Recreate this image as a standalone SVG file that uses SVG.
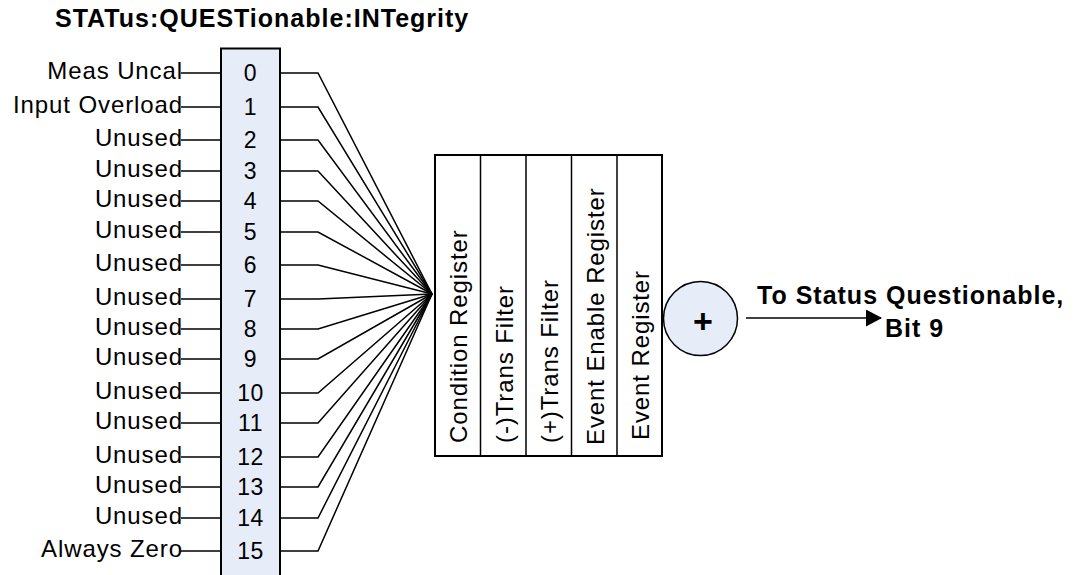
<svg xmlns="http://www.w3.org/2000/svg" width="1077" height="575" viewBox="0 0 1077 575">
<style>
  .lbl { font-family: "Liberation Sans", Arial, sans-serif; font-size: 24px; letter-spacing: 0.9px; fill: #000; text-anchor: end; }
  .num { font-family: "Liberation Sans", Arial, sans-serif; font-size: 23px; letter-spacing: 0.5px; fill: #000; text-anchor: middle; }
  .reg { font-family: "Liberation Sans", Arial, sans-serif; font-size: 24px; letter-spacing: 0.9px; fill: #000; }
  .bold { font-family: "Liberation Sans", Arial, sans-serif; font-weight: bold; font-size: 25px; letter-spacing: 1px; fill: #000; }
  .ln { stroke: #000; stroke-width: 1.5; fill: none; }
  .box { fill: #E6EDF8; stroke: #000; stroke-width: 2; }
</style>
<defs>
  <marker id="arr" markerWidth="16" markerHeight="17" refX="15" refY="8.5" orient="auto" markerUnits="userSpaceOnUse">
    <path d="M0,0 L16,8.5 L0,17 Z" fill="#000"/>
  </marker>
</defs>
<rect width="1077" height="575" fill="#fff"/>
<text id="title" class="bold" x="55" y="27">STATus:QUESTionable:INTegrity</text>

<g id="bits">
  <rect class="box" x="221" y="48.5" width="59" height="560"/>
  <text class="num" x="250.5" y="81">0</text>
  <text class="num" x="250.5" y="115">1</text>
  <text class="num" x="250.5" y="148">2</text>
  <text class="num" x="250.5" y="179">3</text>
  <text class="num" x="250.5" y="209">4</text>
  <text class="num" x="250.5" y="240">5</text>
  <text class="num" x="250.5" y="273">6</text>
  <text class="num" x="250.5" y="307">7</text>
  <text class="num" x="250.5" y="337">8</text>
  <text class="num" x="250.5" y="367">9</text>
  <text class="num" x="250.5" y="401">10</text>
  <text class="num" x="250.5" y="431">11</text>
  <text class="num" x="250.5" y="465">12</text>
  <text class="num" x="250.5" y="495">13</text>
  <text class="num" x="250.5" y="526">14</text>
  <text class="num" x="250.5" y="559">15</text>
</g>

<g id="labels">
  <text class="lbl" x="183" y="79">Meas Uncal</text>
  <text class="lbl" x="183" y="113">Input Overload</text>
  <text class="lbl" x="183" y="146">Unused</text>
  <text class="lbl" x="183" y="177">Unused</text>
  <text class="lbl" x="183" y="207">Unused</text>
  <text class="lbl" x="183" y="238">Unused</text>
  <text class="lbl" x="183" y="271">Unused</text>
  <text class="lbl" x="183" y="305">Unused</text>
  <text class="lbl" x="183" y="335">Unused</text>
  <text class="lbl" x="183" y="365">Unused</text>
  <text class="lbl" x="183" y="399">Unused</text>
  <text class="lbl" x="183" y="429">Unused</text>
  <text class="lbl" x="183" y="463">Unused</text>
  <text class="lbl" x="183" y="493">Unused</text>
  <text class="lbl" x="183" y="524">Unused</text>
  <text class="lbl" x="183" y="557">Always Zero</text>
</g>

<g id="registers">
  <rect x="435" y="155" width="227" height="301" fill="#fff" stroke="#000" stroke-width="2"/>
  <line class="ln" x1="480.5" y1="155" x2="480.5" y2="456"/>
  <line class="ln" x1="526" y1="155" x2="526" y2="456"/>
  <line class="ln" x1="571.5" y1="155" x2="571.5" y2="456"/>
  <line class="ln" x1="617" y1="155" x2="617" y2="456"/>
  <text class="reg" transform="translate(467,443) rotate(-90)">Condition Register</text>
  <text class="reg" transform="translate(513,443) rotate(-90)">(-)Trans Filter</text>
  <text class="reg" transform="translate(558,443) rotate(-90)">(+)Trans Filter</text>
  <text class="reg" transform="translate(604,445) rotate(-90)">Event Enable Register</text>
  <text class="reg" transform="translate(649,440) rotate(-90)">Event Register</text>
</g>

<g id="sum">
  <circle cx="700.5" cy="318.5" r="37" fill="#E6EDF8" stroke="#000" stroke-width="1.5"/>
  <text class="bold" x="703" y="333" text-anchor="middle" style="font-size:34px;letter-spacing:0">+</text>
</g>

<g id="output">
  <text class="bold" x="757" y="304">To Status Questionable,</text>
  <text class="bold" x="885" y="337">Bit 9</text>
</g>

<g id="connectors">
  <path class="ln" d="M181,73 H221 M181,107 H221 M181,140 H221 M181,171 H221 M181,201 H221 M181,232 H221 M181,265 H221 M181,299 H221 M181,329 H221 M181,359 H221 M181,393 H221 M181,423 H221 M181,457 H221 M181,487 H221 M181,518 H221 M181,551 H221"/>
  <g>
    <polyline class="ln" points="280,73 318,73 432,294"/>
    <polyline class="ln" points="280,107 318,107 432,294"/>
    <polyline class="ln" points="280,140 318,140 432,294"/>
    <polyline class="ln" points="280,171 318,171 432,294"/>
    <polyline class="ln" points="280,201 318,201 432,294"/>
    <polyline class="ln" points="280,232 318,232 432,294"/>
    <polyline class="ln" points="280,265 318,265 432,294"/>
    <polyline class="ln" points="280,299 318,299 432,294"/>
    <polyline class="ln" points="280,329 318,329 432,294"/>
    <polyline class="ln" points="280,359 318,359 432,294"/>
    <polyline class="ln" points="280,393 318,393 432,294"/>
    <polyline class="ln" points="280,423 318,423 432,294"/>
    <polyline class="ln" points="280,457 318,457 432,294"/>
    <polyline class="ln" points="280,487 318,487 432,294"/>
    <polyline class="ln" points="280,518 318,518 432,294"/>
    <polyline class="ln" points="280,551 318,551 432,294"/>
  </g>
  <line class="ln" x1="746" y1="318" x2="881" y2="318" marker-end="url(#arr)"/>
</g>
</svg>
